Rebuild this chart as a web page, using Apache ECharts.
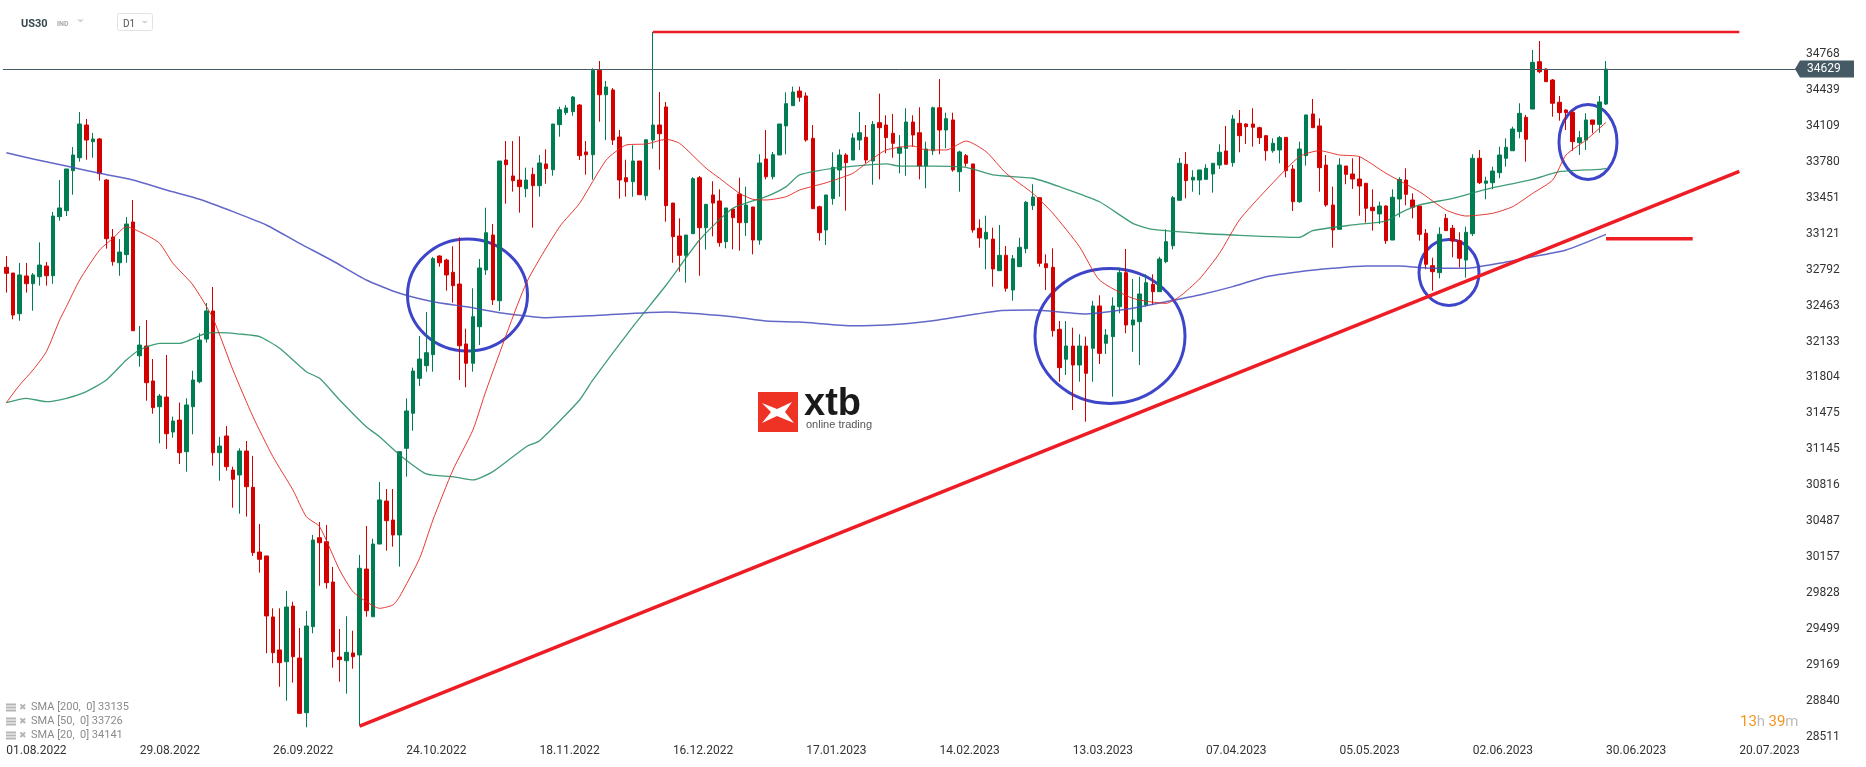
<!DOCTYPE html>
<html>
<head>
<meta charset="utf-8">
<title>US30 D1</title>
<script src="https://cdn.jsdelivr.net/npm/echarts@6.0.0/dist/echarts.min.js"></script>
<style>
  html, body { margin: 0; padding: 0; background: #fff; }
  #chart { width: 1866px; height: 767px; }
</style>
</head>
<body>
<div id="chart"></div>
<script>
// daily candles, [open, close, low, high]
const candles = [
  [32813,32758,32581,32917],[32761,32376,32337,32761],[32388,32743,32324,32853],[32734,32663,32581,32853],
  [32663,32743,32416,32761],[32727,32834,32645,33042],[32825,32736,32645,32862],[32736,33283,32663,33320],
  [33277,33357,33240,33613],[33332,33714,33283,33714],[33698,33842,33478,33915],[33817,34126,33781,34236],
  [34117,33979,33799,34172],[33964,33989,33817,34044],[33989,33671,33607,33998],[33613,33075,32984,33622],
  [33091,32865,32828,33164],[32855,32953,32736,33072],[32929,33210,32855,33274],[33228,32232,32232,33430],
  [32003,32101,31903,32276],[32092,31756,31591,32331],[31772,31527,31472,31973],[31536,31634,31201,31653],
  [31625,31289,31149,32010],[31304,31405,31252,31445],[31414,31115,31011,31573],[31124,31552,30941,31613],
  [31536,31781,31283,31866],[31765,32147,31751,32209],[32156,32413,32123,32486],[32413,31115,30996,32633],
  [31115,31176,30858,31259],[31268,30987,30950,31359],[30956,30871,30611,30987],[30911,31130,30556,31155],
  [31130,30803,30529,31222],[30798,30199,30169,31085],[30205,30138,30016,30462],[30169,29619,29277,30169],
  [29610,29283,29186,29689],[29308,29191,28971,29689],[29200,29701,28843,29848],[29710,29246,29008,29750],
  [29234,28727,28721,29509],[28733,29527,28599,29665],[29521,30315,29460,30361],[30336,30290,29896,30480],
  [30299,29924,29869,30453],[29930,29292,29145,30068],[29243,29219,29017,29500],[29209,29286,28907,29616],
  [29280,29246,29136,29484],[29262,30056,28611,30178],[30049,29667,29612,30443],[29612,30278,29612,30327],
  [30278,30682,30278,30846],[30672,30492,30217,30782],[30498,30361,30254,30782],[30361,31124,30071,31124],
  [31155,31497,30895,31613],[31476,31863,31316,31894],[31796,31973,31726,32184],[31912,32031,31857,32404],
  [32013,32892,31857,32908],[32917,32855,32819,32923],[32880,32743,32599,32892],[32768,32645,32489,33006],
  [32660,32095,31781,33088],[32111,31934,31714,32251],[31934,32361,31857,32621],[32269,32807,32101,32889],
  [32789,33130,32743,33359],[33109,32514,32468,33210],[32507,33787,32413,33787],[33796,33753,33396,33970],
  [33650,33607,33506,33970],[33613,33552,33314,34013],[33533,33613,33455,33726],[33665,33561,33176,33726],
  [33561,33769,33460,33842],[33760,33717,33579,33894],[33707,34126,33652,34126],[34120,34257,34010,34285],
  [34230,34273,34209,34300],[34239,34373,34202,34383],[34300,33836,33796,34309],[33870,33845,33662,33970],
  [33845,34618,33616,34636],[34618,34394,34147,34703],[34394,34465,33979,34520],[34438,33979,33934,34456],
  [34007,33613,33442,34071],[33634,33597,33460,33799],[33597,33787,33460,33931],[33787,33478,33478,33787],
  [33469,33982,33427,33982],[33979,34117,33900,34969],[34117,34037,33707,34419],[34282,33378,33231,34328],
  [33402,33094,32855,33402],[33100,32923,32773,33262],[32923,33109,32672,33109],[33121,33625,33121,33640],
  [33634,33176,32736,33650],[33176,33390,32975,33390],[33476,33402,33097,33601],[33421,33039,33002,33528],
  [33048,33357,32987,33357],[33347,33268,32978,33347],[33485,33222,32965,33634],[33222,33384,33100,33552],
  [33366,33063,32932,33366],[33063,33769,33020,33849],[33805,33643,33619,34071],[33643,33845,33619,33870],
  [33842,34126,33842,34126],[34108,34312,33849,34416],[34294,34419,34294,34468],[34428,34371,34330,34468],
  [34383,33979,33964,34416],[33995,33350,33350,34117],[33368,33130,33057,33378],[33155,33476,33018,33476],
  [33442,33729,33387,33867],[33705,33842,33460,33894],[33842,33772,33332,33858],[33796,33998,33796,34041],
  [33979,34046,33888,34236],[34004,33796,33766,34117],[33787,34123,33570,34154],[34138,34092,33619,34404],
  [34117,34001,33858,34206],[34041,33949,33817,34218],[33858,33913,33674,34025],[33903,34144,33652,34270],
  [34144,34025,33918,34206],[34046,33741,33619,34279],[33741,33897,33537,33964],[33881,34275,33842,34285],
  [34275,34071,33849,34538],[34071,34175,33903,34230],[34163,33705,33689,34230],[33689,33870,33506,33881],
  [33836,33766,33735,33851],[33760,33155,33130,33760],[33171,33082,32993,33253],[33072,33134,32795,33286],
  [33072,32798,32636,33176],[32782,32923,32782,33201],[32923,32621,32590,33008],[32605,32892,32507,32926],
  [32819,32997,32819,33084],[32984,33409,32942,33421],[33378,33457,33338,33574],[33451,32850,32819,33451],
  [32846,32810,32605,32932],[32813,32232,32178,32987],[32245,31894,31765,32321],[31971,32092,31827,32321],
  [32092,31918,31506,32260],[31918,32092,31765,32200],[32092,31842,31399,32178],[32071,32459,31765,32505],
  [32459,32025,31927,32557],[32117,32193,32019,32248],[32178,32459,31628,32538],[32452,32764,32392,32810],
  [32764,32285,32209,32981],[32285,32331,32040,32706],[32315,32569,31918,32727],[32468,32672,32452,32749],
  [32657,32590,32468,32749],[32590,32889,32590,32910],[32865,33048,32850,33161],[33011,33451,32978,33466],
  [33427,33766,33427,33815],[33757,33607,33445,33870],[33613,33638,33506,33702],[33613,33705,33476,33705],
  [33619,33720,33619,33757],[33668,33766,33497,33766],[33750,33867,33714,33940],[33879,33757,33757,34108],
  [33772,34172,33735,34209],[34132,34019,33867,34254],[34126,34101,33943,34132],[34126,34096,33918,34270],
  [34092,34001,33943,34101],[34019,33881,33790,34025],[33881,33949,33863,33995],[33888,34001,33766,34016],
  [34004,33698,33638,34004],[33714,33414,33329,33750],[33414,33897,33405,33964],[33836,34209,33744,34209],
  [34218,34092,34092,34355],[34108,33726,33506,34178],[33750,33384,33368,33842],[33384,33155,32993,33552],
  [33161,33750,33161,33812],[33741,33665,33574,33741],[33668,33622,33531,33812],[33622,33558,33286,33827],
  [33583,33354,33222,33583],[33363,33332,33149,33528],[33302,33375,33210,33414],[33375,33057,33027,33381],
  [33063,33455,33063,33528],[33439,33619,33271,33638],[33613,33482,33381,33720],[33430,33363,33262,33491],
  [33375,33116,33057,33375],[33125,32841,32795,33164],[32828,32773,32599,32901],[32764,33116,32712,33180],
  [33262,33149,33149,33302],[33171,33054,32905,33201],[33057,32896,32813,33134],[32880,33134,32718,33185],
  [33121,33812,33100,33849],[33812,33588,33576,33888],[33583,33604,33436,33643],[33588,33695,33528,33735],
  [33680,33842,33629,33918],[33812,33913,33735,33995],[33881,34080,33881,34101],[34056,34224,33995,34316],
  [34187,33986,33781,34209],[34263,34691,34263,34804],[34697,34605,34591,34886],[34630,34514,34514,34636],
  [34529,34316,34193,34538],[34325,34230,34156,34383],[34254,34230,34071,34261],[34233,33964,33881,34254],
  [33955,34001,33842,34062],[33979,34163,33888,34224],[34163,34123,34041,34163],[34123,34328,34046,34383],
  [34309,34629,34300,34703]
];

const slotCount = 269;   // candle slots incl. the empty space on the right
const labelStep = 20;    // a date label every 20 slots
const dateLabels = ['01.08.2022','29.08.2022','26.09.2022','24.10.2022','18.11.2022','16.12.2022','17.01.2023',
  '14.02.2023','13.03.2023','07.04.2023','05.05.2023','02.06.2023','30.06.2023','20.07.2023'];
const yTicks = [28511,28840,29169,29499,29828,30157,30487,30816,31145,31475,31804,32133,32463,32792,
  33121,33451,33780,34109,34439,34768];

// moving averages, [slot, value]
const sma200 = [[0,33863],[4,33806],[9,33741],[14,33674],[19,33613],[24,33521],[29,33436],[34,33323],[39,33201],
  [44,33033],[49,32871],[54,32697],[59,32575],[64,32498],[69,32452],[74,32397],[79,32361],[81,32352],[89,32374],
  [99,32404],[109,32361],[114,32321],[119,32312],[127,32278],[132,32285],[139,32324],[149,32416],[154,32422],
  [162,32386],[169,32438],[174,32498],[179,32560],[184,32636],[189,32727],[194,32773],[199,32804],[204,32825],
  [209,32825],[214,32804],[219,32804],[224,32850],[229,32910],[234,32972],[240,33115]];
const sma50 = [[0,31573],[3,31613],[6,31582],[9,31613],[12,31674],[15,31781],[18,31964],[20,32056],[23,32117],
  [26,32117],[30,32209],[32,32214],[35,32202],[38,32178],[41,32071],[45,31857],[47,31796],[50,31598],[54,31353],
  [56,31261],[59,31094],[63,30920],[67,30895],[70,30865],[73,30941],[78,31170],[80,31225],[86,31598],[88,31781],
  [94,32269],[99,32651],[104,33063],[109,33354],[114,33460],[117,33552],[119,33659],[124,33720],[132,33760],
  [134,33741],[139,33741],[144,33729],[148,33659],[154,33629],[158,33552],[164,33414],[169,33216],[172,33161],
  [179,33125],[184,33109],[194,33088],[196,33149],[202,33201],[207,33237],[209,33308],[212,33384],[217,33445],
  [222,33528],[229,33619],[233,33689],[239,33711],[240,33720]];
const sma20 = [[0,31573],[2,31735],[4,31872],[6,32040],[8,32331],[9,32452],[11,32697],[14,32972],[16,33079],
  [18,33185],[21,33109],[23,33033],[25,32850],[28,32651],[31,32346],[34,31872],[37,31445],[40,31078],[43,30773],
  [45,30529],[47,30437],[50,30040],[52,29842],[54,29750],[56,29689],[58,29720],[59,29796],[62,30147],[64,30498],
  [67,30956],[70,31323],[72,31689],[78,32667],[83,33185],[86,33399],[90,33796],[93,33934],[96,33943],[99,33986],
  [101,33949],[105,33720],[107,33629],[110,33491],[112,33436],[114,33430],[117,33460],[119,33521],[123,33588],
  [127,33674],[129,33766],[132,33888],[136,33925],[138,33888],[141,33888],[144,33970],[147,33872],[150,33674],
  [154,33491],[157,33308],[161,33002],[164,32697],[169,32529],[174,32483],[176,32544],[179,32706],[182,32941],
  [185,33247],[189,33521],[194,33827],[197,33882],[200,33842],[203,33827],[207,33674],[212,33506],[216,33338],
  [219,33283],[223,33308],[226,33369],[229,33491],[232,33613],[234,33842],[237,33979],[240,34141]];

// hand drawn lines
const trendLine = [[53,28611],[260,33692]];
const topLine = [[97,34969],[260,34969]];
const supportLine = [[240,33075],[253,33075]];

const legendRows = [['SMA [200,  0]', 33135], ['SMA [50,  0]', 33726], ['SMA [20,  0]', 34141]];

const GREEN = '#007d50', RED = '#d40000', MARK = '#ee1d25', RING = '#3d45c9';
const lastClose = candles[candles.length - 1][1];

const chart = echarts.init(document.getElementById('chart'));

function smaSeries(data, color, width) {
  return {
    type: 'line', data: data, symbol: 'none', smooth: 0.2, silent: true,
    lineStyle: {color: color, width: width}, z: 3
  };
}
function markSeries(data, width) {
  return {
    type: 'line', data: data, symbol: 'none', silent: true,
    lineStyle: {color: MARK, width: width}, z: 4
  };
}

chart.setOption({
  animation: false,
  grid: {left: 3, right: 70, top: 0, bottom: 22},
  xAxis: {
    type: 'category',
    data: Array.from({length: slotCount}, (_, i) => String(i)),
    boundaryGap: true,
    axisLine: {show: false}, axisTick: {show: false}, splitLine: {show: false},
    axisLabel: {
      interval: (i) => i % labelStep === 0 && i / labelStep < dateLabels.length,
      formatter: (v, i) => dateLabels[Math.round(Number(v) / labelStep)] || '',
      align: 'left', color: '#333', fontSize: 12, fontFamily: 'Roboto', margin: 0
    }
  },
  yAxis: {
    type: 'value', position: 'right', min: 28437, max: 35262,
    axisLine: {show: false}, axisTick: {show: false}, splitLine: {show: false},
    axisLabel: {
      customValues: yTicks,
      formatter: (v) => String(Math.round(v)),
      color: '#333', fontSize: 12, fontFamily: 'Roboto', margin: 10
    }
  },
  series: [
    {
      type: 'candlestick', data: candles, barWidth: 4, z: 2,
      itemStyle: {color: GREEN, color0: RED, borderColor: GREEN, borderColor0: RED, borderWidth: 1},
      markLine: {
        silent: true, symbol: 'none', label: {show: false},
        lineStyle: {color: '#455a64', width: 1, type: 'solid'},
        data: [{yAxis: lastClose}]
      }
    },
    smaSeries(sma200, 'rgba(70,76,190,0.85)', 1.5),
    smaSeries(sma50, 'rgba(30,140,95,0.85)', 1.3),
    smaSeries(sma20, 'rgba(226,36,30,0.9)', 1),
    markSeries(trendLine, 3.5),
    markSeries(topLine, 2.5),
    markSeries(supportLine, 3.5)
  ]
});

const py = chart.convertToPixel({yAxisIndex: 0}, lastClose);
const graphics = [
  // header
  {type: 'text', x: 21, y: 24, style: {text: 'US30', font: 'bold 11px Roboto', fill: '#37474f', verticalAlign: 'middle'}},
  {type: 'text', x: 57, y: 24, style: {text: 'IND', font: 'bold 7px Roboto', fill: '#a3abb0', verticalAlign: 'middle'}},
  {type: 'polygon', shape: {points: [[77, 19.5], [84, 19.5], [80.5, 22.5]]}, style: {fill: '#cfd4d7'}},
  {type: 'rect', shape: {x: 117.5, y: 13.5, width: 35, height: 17, r: 2}, style: {fill: '#fff', stroke: '#e2e2e2'}},
  {type: 'text', x: 123, y: 24, style: {text: 'D1', font: '10px Roboto', fill: '#555', verticalAlign: 'middle'}},
  {type: 'polygon', shape: {points: [[141.5, 21], [148, 21], [144.75, 23.5]]}, style: {fill: '#cfd4d7'}},
  // watermark logo
  {type: 'rect', shape: {x: 758, y: 392, width: 40, height: 40}, style: {fill: '#ee3224'}},
  {type: 'polygon', shape: {points: [[762, 403], [777, 409], [792, 402], [785, 412], [794, 423], [777, 416], [762, 423], [771, 412]]},
    style: {fill: '#fff'}},
  {type: 'text', x: 804, y: 405, style: {text: 'xtb', font: 'bold 38px "Liberation Sans"', fill: '#1a1a1a', verticalAlign: 'middle'}},
  {type: 'text', x: 806, y: 425, style: {text: 'online trading', font: '11px "Liberation Sans"', fill: '#555', verticalAlign: 'middle'}},
  // last price tag
  {type: 'polygon', shape: {points: [[1795, py], [1800, py - 8.5], [1854, py - 8.5], [1854, py + 8.5], [1800, py + 8.5]]},
    style: {fill: '#455a64'}},
  {type: 'text', x: 1807, y: py, style: {text: String(lastClose), font: '12px Roboto', fill: '#fff', verticalAlign: 'middle'}},
  // countdown
  {type: 'text', x: 1740, y: 722, style: {
    text: '{o|13}{g|h} {o|39}{g|m}', verticalAlign: 'middle',
    rich: {o: {fill: '#f7941d', font: '15px Roboto'}, g: {fill: '#bdbdbd', font: '15px Roboto'}}
  }},
  // circles
  {type: 'ellipse', shape: {cx: 467.5, cy: 295, rx: 60, ry: 56}, style: {fill: 'none', stroke: RING, lineWidth: 3}},
  {type: 'ellipse', shape: {cx: 1110, cy: 336, rx: 75, ry: 67.5}, style: {fill: 'none', stroke: RING, lineWidth: 3}},
  {type: 'ellipse', shape: {cx: 1449, cy: 272.5, rx: 30, ry: 33}, style: {fill: 'none', stroke: RING, lineWidth: 3}},
  {type: 'ellipse', shape: {cx: 1588, cy: 142, rx: 29, ry: 37.5}, style: {fill: 'none', stroke: RING, lineWidth: 3}}
];

// indicator legend, bottom left
legendRows.forEach(function (row, i) {
  const y = 707.5 + i * 14;
  graphics.push(
    {type: 'rect', shape: {x: 6, y: y - 4, width: 10, height: 2}, style: {fill: '#b5b5b5'}},
    {type: 'rect', shape: {x: 6, y: y - 1, width: 10, height: 2}, style: {fill: '#b5b5b5'}},
    {type: 'rect', shape: {x: 6, y: y + 2, width: 10, height: 2}, style: {fill: '#b5b5b5'}},
    {type: 'text', x: 19, y: y, style: {text: '\u2716', font: '9px "DejaVu Sans"', fill: '#b5b5b5', verticalAlign: 'middle'}},
    {type: 'text', x: 31, y: y, style: {text: row[0] + ' ' + row[1], font: '11px Roboto', fill: '#8a8a8a', verticalAlign: 'middle'}}
  );
});

chart.setOption({graphic: graphics});
</script>
</body>
</html>
